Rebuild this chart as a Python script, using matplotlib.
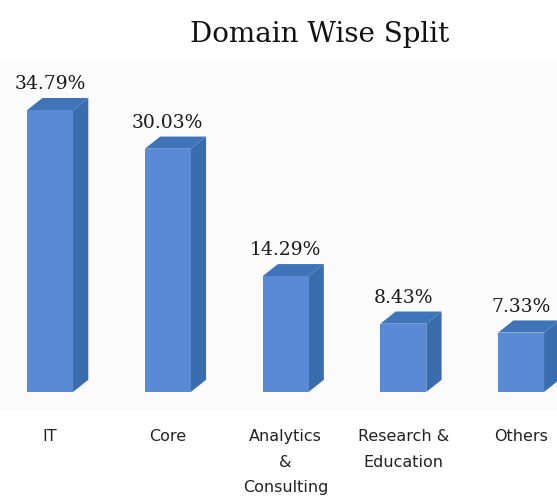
import matplotlib.pyplot as plt

# data
categories = ['IT', 'Core', 'Analytics\n&\nConsulting', 'Research &\nEducation', 'Others']
shares = [34.79, 30.03, 14.29, 8.43, 7.33]
value_labels = ['34.79%', '30.03%', '14.29%', '8.43%', '7.33%']

front_col = '#5a8ad6'
side_col = '#3a6dae'
top_col = '#4074b8'

width = 0.39
dx = 0.13   # depth of the fake 3d box (x units)
dy = 1.5    # depth of the fake 3d box (y units)

fig = plt.figure(figsize=(5.57, 5.03), dpi=100)
ax = fig.add_axes([0, 0.185, 1, 0.696])
ax.set_facecolor('#fbfbfb')

xs = list(range(len(shares)))
ax.bar(xs, shares, width=width, color=front_col, zorder=3)

for x, h, lab in zip(xs, shares, value_labels):
    left = x - width / 2
    right = x + width / 2
    # side face
    ax.fill([right, right + dx, right + dx, right],
            [0, dy, h + dy, h], color=side_col, zorder=2, lw=0)
    # top face
    ax.fill([left, left + dx, right + dx, right],
            [h, h + dy, h + dy, h], color=top_col, zorder=2, lw=0)
    ax.text(x, h + dy + 0.6, lab, ha='center', va='bottom',
            family='DejaVu Serif', fontsize=13.5, color='#1a1a1a')

ax.set_xlim(-0.425, 4.305)
ax.set_ylim(-2.22, 41.0)
ax.set_xticks(xs)
ax.set_xticklabels(categories, fontsize=11.5, linespacing=1.85, color='#222222')
ax.tick_params(axis='x', length=0, pad=14)
ax.set_yticks([])
for s in ax.spines.values():
    s.set_visible(False)

fig.text(320 / 557, 1 - 35 / 503, 'Domain Wise Split', ha='center', va='center',
         family='DejaVu Serif', fontsize=20, color='#111111')

fig.savefig('out.png', dpi=100)
